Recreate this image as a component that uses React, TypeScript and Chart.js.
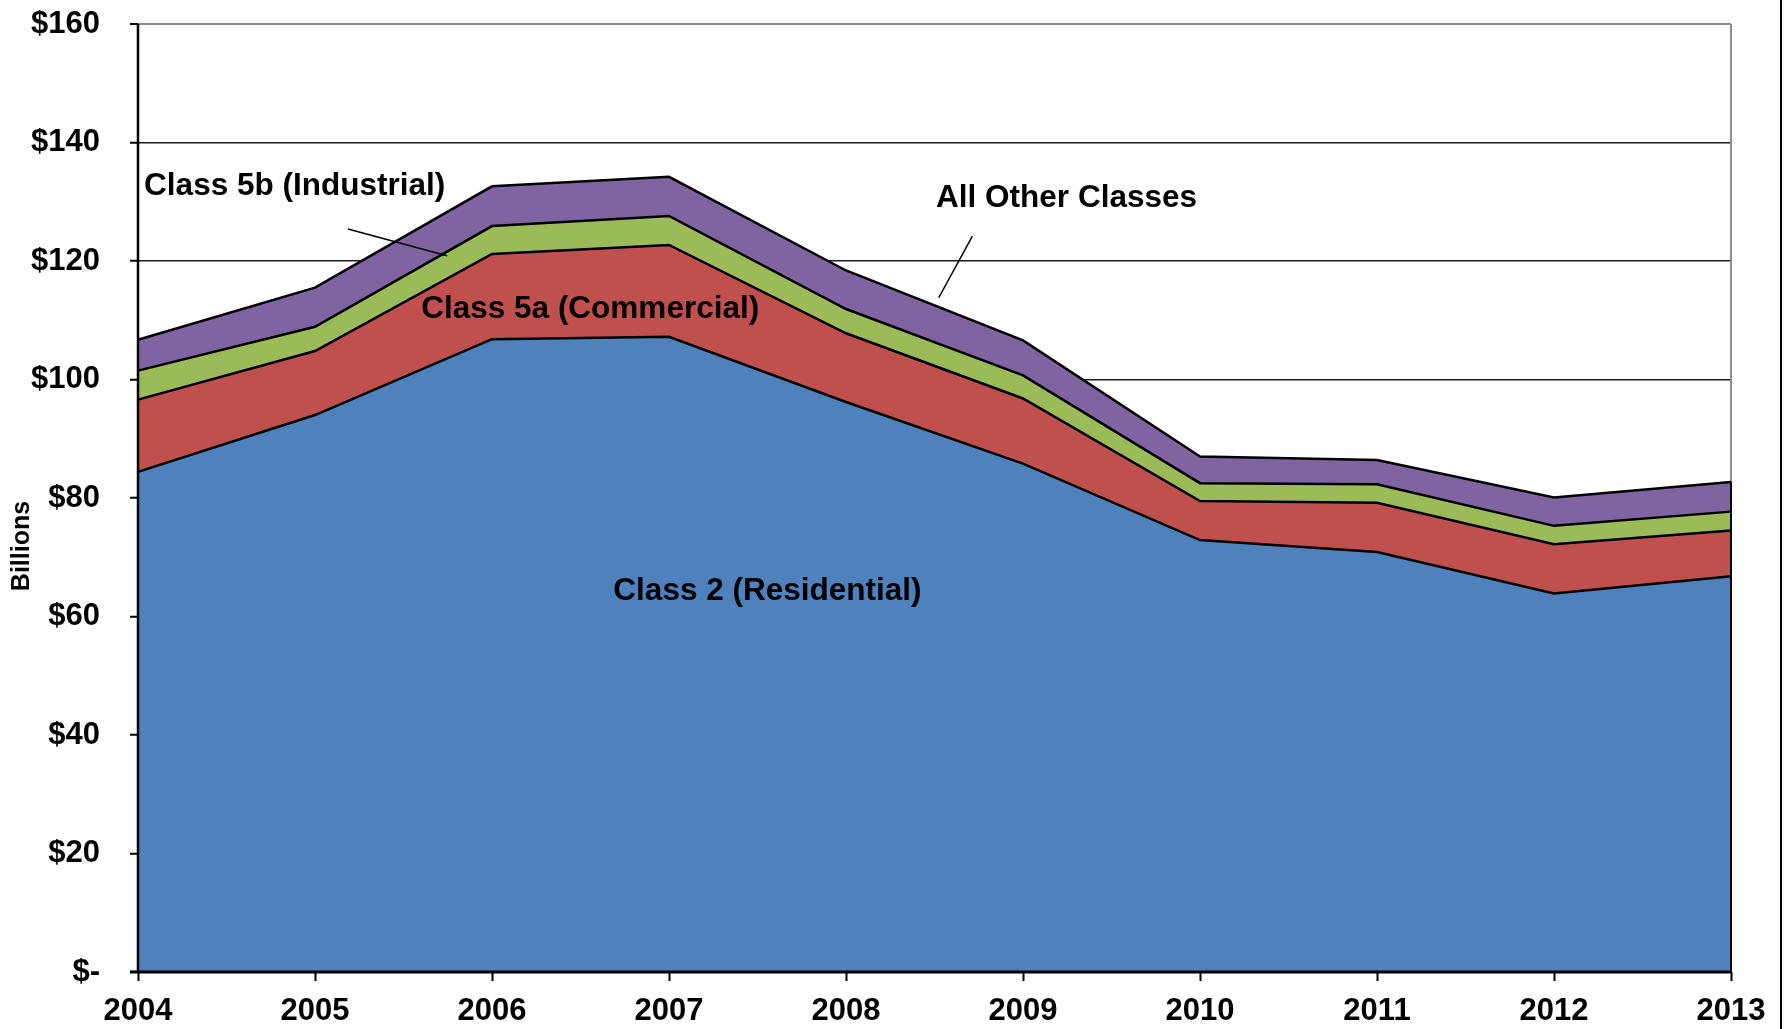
import React, { useEffect, useRef } from "react";
import { Chart, registerables } from "chart.js";

Chart.register(...registerables);

const years = ["2004", "2005", "2006", "2007", "2008", "2009", "2010", "2011", "2012", "2013"];
const residential = [84.4, 94.0, 106.8, 107.2, 96.2, 85.8, 72.9, 70.9, 63.9, 66.8];
const commercial = [12.2, 10.8, 14.4, 15.5, 11.6, 11.0, 6.6, 8.3, 8.3, 7.7];
const industrial = [4.9, 4.1, 4.7, 4.9, 4.1, 3.9, 3.0, 3.1, 3.1, 3.2];
const otherClasses = [5.2, 6.6, 6.7, 6.6, 6.5, 5.9, 4.5, 4.1, 4.8, 5.0];
const seriesNames = ["Class 2 (Residential)", "Class 5a (Commercial)", "Class 5b (Industrial)", "All Other Classes"];
const seriesColors = ["#4F81BD", "#C0504D", "#9BBB59", "#8064A2"];
const yTickMax = 160;
const yTickStep = 20;

const FONT = '"Liberation Sans", Arial, Helvetica, sans-serif';

// annotation labels, placed in data coordinates (category index, value)
const labelNotes = [
  { text: "Class 5b (Industrial)", x: 0.885, y: 132.6 },
  { text: "Class 5a (Commercial)", x: 2.555, y: 111.9 },
  { text: "All Other Classes", x: 5.246, y: 130.6 },
  { text: "Class 2 (Residential)", x: 3.556, y: 64.3 },
];
const leaderLines = [
  { x1: 1.186, y1: 125.4, x2: 1.746, y2: 120.9 },
  { x1: 4.714, y1: 124.2, x2: 4.524, y2: 113.8 },
];

const overlayPlugin = {
  id: "overlay",
  beforeDatasetsDraw(chart: any) {
    const { ctx, chartArea } = chart;
    ctx.save();
    ctx.strokeStyle = "#8c8c8c";
    ctx.lineWidth = 2;
    ctx.beginPath();
    ctx.moveTo(chartArea.right, chartArea.top);
    ctx.lineTo(chartArea.right, chartArea.bottom);
    ctx.stroke();
    ctx.restore();
  },
  afterDatasetsDraw(chart: any) {
    const { ctx, chartArea } = chart;
    const xs = chart.scales.x;
    const ys = chart.scales.y;
    ctx.save();
    const last = years.length - 1;
    const total = residential[last] + commercial[last] + industrial[last] + otherClasses[last];
    ctx.strokeStyle = "#000";
    ctx.lineWidth = 2;
    ctx.beginPath();
    ctx.moveTo(xs.getPixelForValue(last), ys.getPixelForValue(total));
    ctx.lineTo(xs.getPixelForValue(last), chartArea.bottom);
    ctx.stroke();
    ctx.lineWidth = 2.5;
    ctx.beginPath();
    ctx.moveTo(chartArea.left, chartArea.top);
    ctx.lineTo(chartArea.left, chartArea.bottom + 1);
    ctx.stroke();
    ctx.lineWidth = 3;
    ctx.beginPath();
    ctx.moveTo(chartArea.left - 8, chartArea.bottom);
    ctx.lineTo(chartArea.right, chartArea.bottom);
    ctx.stroke();
    ctx.restore();
  },
  afterDraw(chart: any) {
    const { ctx, chartArea } = chart;
    const xs = chart.scales.x;
    const ys = chart.scales.y;
    ctx.save();
    ctx.fillStyle = "#000";
    ctx.font = `bold 31.5px ${FONT}`;
    ctx.textAlign = "center";
    ctx.textBaseline = "middle";
    labelNotes.forEach((n) => {
      ctx.fillText(n.text, xs.getPixelForValue(n.x), ys.getPixelForValue(n.y));
    });
    ctx.strokeStyle = "#000";
    ctx.lineWidth = 1.5;
    leaderLines.forEach((l) => {
      ctx.beginPath();
      ctx.moveTo(xs.getPixelForValue(l.x1), ys.getPixelForValue(l.y1));
      ctx.lineTo(xs.getPixelForValue(l.x2), ys.getPixelForValue(l.y2));
      ctx.stroke();
    });
    ctx.save();
    ctx.translate(22, (chartArea.top + chartArea.bottom) / 2 + 48);
    ctx.rotate(-Math.PI / 2);
    ctx.font = `bold 25px ${FONT}`;
    ctx.fillText("Billions", 0, 0);
    ctx.restore();
    ctx.strokeStyle = "#000";
    ctx.lineWidth = 2;
    ctx.beginPath();
    ctx.moveTo(chart.width - 7, 0);
    ctx.lineTo(chart.width - 7, chart.height);
    ctx.stroke();
    ctx.restore();
  },
};

export default function App() {
  const ref = useRef<HTMLCanvasElement>(null);
  useEffect(() => {
    const series = [residential, commercial, industrial, otherClasses];
    const chart = new Chart(ref.current as HTMLCanvasElement, {
      type: "line",
      data: {
        labels: years,
        datasets: series.map((d, i) => ({
          label: seriesNames[i],
          data: d,
          backgroundColor: seriesColors[i],
          borderColor: "#000",
          borderWidth: 2.5,
          fill: i === 0 ? "origin" : "-1",
          pointRadius: 0,
          tension: 0,
        })),
      },
      options: {
        responsive: false,
        animation: false,
        layout: { padding: { top: 24, right: 57, bottom: 0, left: 0 } },
        plugins: { legend: { display: false }, tooltip: { enabled: false } },
        scales: {
          x: {
            offset: false,
            afterFit: (s: any) => { s.height = 57; s.paddingLeft = 0; s.paddingRight = 0; },
            grid: { drawOnChartArea: false, drawTicks: true, tickLength: 9, tickColor: "#000", tickWidth: 2 },
            border: { display: false },
            ticks: { color: "#000", font: { family: FONT, size: 31, weight: "bold" }, padding: 12, maxRotation: 0, autoSkip: false },
          },
          y: {
            stacked: true,
            min: 0,
            max: yTickMax,
            afterFit: (s: any) => { s.width = 138; s.paddingTop = 0; s.paddingBottom = 0; },
            grid: {
              color: (c: any) => (c.tick && c.tick.value === yTickMax ? "#8c8c8c" : "#1a1a1a"),
              lineWidth: (c: any) => (c.tick && c.tick.value === yTickMax ? 2 : 1.5),
              tickLength: 8,
              tickColor: "#000",
              tickWidth: 2,
            },
            border: { display: false },
            ticks: {
              stepSize: yTickStep,
              color: "#000",
              font: { family: FONT, size: 31, weight: "bold" },
              padding: 30,
              callback: (v: any) => (v === 0 ? "$-" : "$" + v),
            },
          },
        },
      },
      plugins: [overlayPlugin],
    });
    return () => chart.destroy();
  }, []);
  return (
    <div style={{ position: "absolute", left: 0, top: 0, width: 1788, height: 1029, background: "#fff" }}>
      <canvas ref={ref} width={1788} height={1029} style={{ display: "block" }} />
    </div>
  );
}
